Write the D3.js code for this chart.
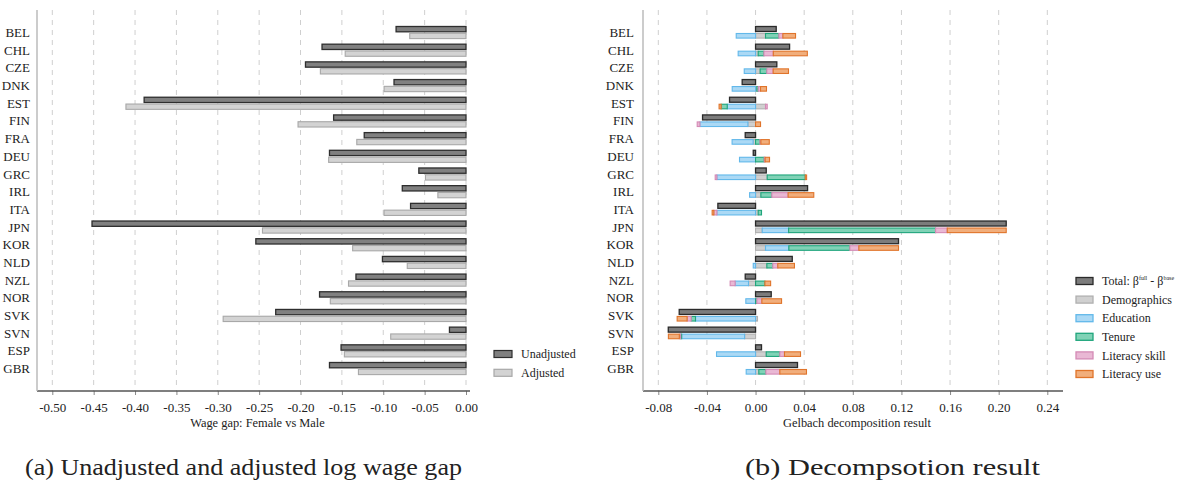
<!DOCTYPE html>
<html><head><meta charset="utf-8">
<script src="https://cdn.jsdelivr.net/npm/d3@7"></script>
<style>body{margin:0;background:#fff}svg{display:block}text{font-family:"Liberation Serif","Times New Roman",serif;fill:#222}</style>
</head><body><svg id="c" width="1187" height="491"></svg>
<script>
const countries = ["BEL","CHL","CZE","DNK","EST","FIN","FRA","DEU","GRC","IRL","ITA","JPN","KOR","NLD","NZL","NOR","SVK","SVN","ESP","GBR"];
const unadjusted = [-0.0845,-0.174,-0.194,-0.087,-0.389,-0.160,-0.123,-0.165,-0.057,-0.077,-0.067,-0.452,-0.254,-0.101,-0.133,-0.177,-0.230,-0.020,-0.151,-0.165];
const adjusted   = [-0.068,-0.146,-0.176,-0.099,-0.411,-0.203,-0.132,-0.166,-0.049,-0.034,-0.099,-0.246,-0.137,-0.071,-0.142,-0.164,-0.2935,-0.091,-0.147,-0.130];
const total      = [0.0170,0.0280,0.0175,-0.0110,-0.0214,-0.0436,-0.0085,-0.0019,0.0088,0.0428,-0.0310,0.2062,0.1176,0.0302,-0.0085,0.0129,-0.0628,-0.0718,0.0049,0.0345];
const demographics = [0.0082,0.0022,0.0038,0.0011,0.0082,-0.0063,-0.0020,0.0000,0.0096,0.0044,0.0022,0.0055,0.0082,0.0093,-0.0058,0.0000,0.0016,-0.0090,0.0088,0.0027];
const education    = [-0.0159,-0.0143,-0.0093,-0.0192,-0.0233,-0.0395,-0.0173,-0.0132,-0.0318,-0.0049,-0.0318,0.0217,0.0192,-0.0019,-0.0110,-0.0080,-0.0494,-0.0518,-0.0321,-0.0077];
const tenure       = [0.0110,0.0047,0.0055,0.0011,-0.0050,0.0000,0.0036,0.0071,0.0313,0.0090,0.0027,0.1209,0.0502,0.0049,0.0077,0.0011,-0.0036,-0.0008,0.0112,0.0058];
const literacySkill= [0.0033,0.0077,0.0052,0.0019,0.0014,-0.0022,0.0008,0.0008,-0.0014,0.0134,-0.0025,0.0096,0.0074,0.0041,-0.0041,0.0041,-0.0033,-0.0011,0.0038,0.0115];
const literacyUse  = [0.0104,0.0280,0.0126,0.0049,-0.0017,0.0041,0.0069,0.0036,0.0011,0.0211,-0.0014,0.0485,0.0326,0.0137,0.0047,0.0162,-0.0082,-0.0090,0.0132,0.0219];
const leftTicks = [-0.50,-0.45,-0.40,-0.35,-0.30,-0.25,-0.20,-0.15,-0.10,-0.05,0.00];
const rightTicks = [-0.08,-0.04,0.00,0.04,0.08,0.12,0.16,0.20,0.24];
const compKeys = ["Demographics","Education","Tenure","Literacy skill","Literacy use"];
const compValues = [demographics, education, tenure, literacySkill, literacyUse];

const compFill = {"Demographics":"#d0d0d0","Education":"#abd9f5","Tenure":"#80d2b6","Literacy skill":"#e9b8d4","Literacy use":"#f1ae7c"};
const compStroke = {"Demographics":"#b0b0b0","Education":"#62b8ea","Tenure":"#1fa57c","Literacy skill":"#d48ab5","Literacy use":"#e0742a"};

const svg = d3.select("#c");
const y = d3.scalePoint().domain(countries).range([32.5, 368.5]);
const TOP = 10, BOT = 391;

function frame(g, x, ticks, x0, x1, title, labelX) {
  g.selectAll(".grid").data(ticks).join("line")
    .attr("x1", d => x(d)).attr("x2", d => x(d)).attr("y1", TOP).attr("y2", BOT)
    .attr("stroke", "#cfcfcf").attr("stroke-width", 1).attr("stroke-dasharray", "5,5");
  const ax = g.append("g").attr("transform", `translate(0,${BOT})`)
    .call(d3.axisBottom(x).tickValues(ticks).tickFormat(d3.format(".2f")).tickSize(4).tickSizeOuter(0));
  ax.select(".domain").remove();
  ax.selectAll(".tick line").attr("stroke", "#888");
  ax.selectAll(".tick text").attr("font-size", 13).attr("dy", "1.05em").attr("fill", "#222")
    .style("font-family", '"Liberation Serif",serif')
    .text(d => d3.format(".2f")(d).replace("−", "-"));
  g.append("line").attr("x1", x0).attr("x2", x1).attr("y1", BOT).attr("y2", BOT).attr("stroke", "#555").attr("stroke-width", 1.5);
  g.append("line").attr("x1", x0).attr("x2", x0).attr("y1", TOP).attr("y2", BOT).attr("stroke", "#bbb").attr("stroke-width", 1.5);
  g.selectAll(".yl").data(countries).join("text")
    .attr("x", labelX).attr("y", d => y(d)).attr("dy", "0.35em").attr("text-anchor", "end")
    .attr("font-size", 13).text(d => d);
  g.append("text").attr("x", (x0 + x1) / 2 + 4).attr("y", 427).attr("text-anchor", "middle")
    .attr("font-size", 12.4).text(title);
}

// ---- Left panel
const xl = d3.scaleLinear().domain([-0.5, 0]).range([52.3, 466]);
const gl = svg.append("g");
frame(gl, xl, leftTicks, 37, 470, "Wage gap: Female vs Male", 30);
gl.selectAll(".ua").data(countries).join("rect")
  .attr("x", (d, i) => xl(unadjusted[i])).attr("width", (d, i) => xl(0) - xl(unadjusted[i]))
  .attr("y", d => y(d) - 6).attr("height", 5.3)
  .attr("fill", "#808080").attr("stroke", "#2e2e2e").attr("stroke-width", 1.3);
gl.selectAll(".ad").data(countries).join("rect")
  .attr("x", (d, i) => xl(adjusted[i])).attr("width", (d, i) => xl(0) - xl(adjusted[i]))
  .attr("y", d => y(d) + 0.8).attr("height", 5.3)
  .attr("fill", "#d3d3d3").attr("stroke", "#a8a8a8").attr("stroke-width", 1.1);
const legL = [["Unadjusted", "#808080", "#2e2e2e"], ["Adjusted", "#d3d3d3", "#a8a8a8"]];
legL.forEach((l, i) => {
  const cy = 354 + i * 18.8;
  gl.append("rect").attr("x", 494).attr("y", cy - 3.5).attr("width", 18).attr("height", 7)
    .attr("fill", l[1]).attr("stroke", l[2]).attr("stroke-width", 1.2);
  gl.append("text").attr("x", 521).attr("y", cy).attr("dy", "0.35em").attr("font-size", 12).text(l[0]);
});

// ---- Right panel
const xr = d3.scaleLinear().domain([-0.08, 0.24]).range([658.3, 1047.3]);
const gr = svg.append("g");
frame(gr, xr, rightTicks, 643, 1063, "Gelbach decomposition result", 634);
gr.selectAll(".tot").data(countries).join("rect")
  .attr("x", (d, i) => xr(Math.min(0, total[i]))).attr("width", (d, i) => Math.abs(xr(total[i]) - xr(0)))
  .attr("y", d => y(d) - 6).attr("height", 5)
  .attr("fill", "#7c7c7c").attr("stroke", "#2a2a2a").attr("stroke-width", 1.3);
const rows = countries.map((c, i) => {
  const o = {country: c};
  compKeys.forEach((k, j) => o[k] = compValues[j][i]);
  return o;
});
const stack = d3.stack().keys(compKeys).offset(d3.stackOffsetDiverging)(rows);
stack.forEach(layer => {
  gr.append("g").selectAll("rect").data(layer).join("rect")
    .filter(d => Math.abs(d[1] - d[0]) > 1e-9)
    .attr("x", d => xr(Math.min(d[0], d[1]))).attr("width", d => Math.abs(xr(d[1]) - xr(d[0])))
    .attr("y", d => y(d.data.country) + 1).attr("height", 4.6)
    .attr("fill", compFill[layer.key]).attr("stroke", compStroke[layer.key]).attr("stroke-width", 1.1);
});
const legR = [["Total", "#7c7c7c", "#2a2a2a"]].concat(compKeys.map(k => [k, compFill[k], compStroke[k]]));
legR.forEach((l, i) => {
  const cy = 281 + i * 18.6;
  gr.append("rect").attr("x", 1076).attr("y", cy - 3.5).attr("width", 17).attr("height", 7)
    .attr("fill", l[1]).attr("stroke", l[2]).attr("stroke-width", 1.3);
  const t = gr.append("text").attr("x", 1102).attr("y", cy + 4.2).attr("font-size", 12);
  if (i === 0) {
    t.append("tspan").text("Total: β");
    t.append("tspan").attr("font-size", 6).attr("dy", -5).text("full");
    t.append("tspan").attr("dy", 5).text(" - β");
    t.append("tspan").attr("font-size", 6).attr("dy", -5).text("base");
  } else t.text(l[0]);
});

// ---- Captions
svg.append("text").attr("x", 25).attr("y", 475).attr("font-size", 24)
  .attr("textLength", 437).attr("lengthAdjust", "spacingAndGlyphs")
  .text("(a) Unadjusted and adjusted log wage gap");
svg.append("text").attr("x", 745).attr("y", 475).attr("font-size", 24)
  .attr("textLength", 295).attr("lengthAdjust", "spacingAndGlyphs")
  .text("(b) Decompsotion result");
</script></body></html>
